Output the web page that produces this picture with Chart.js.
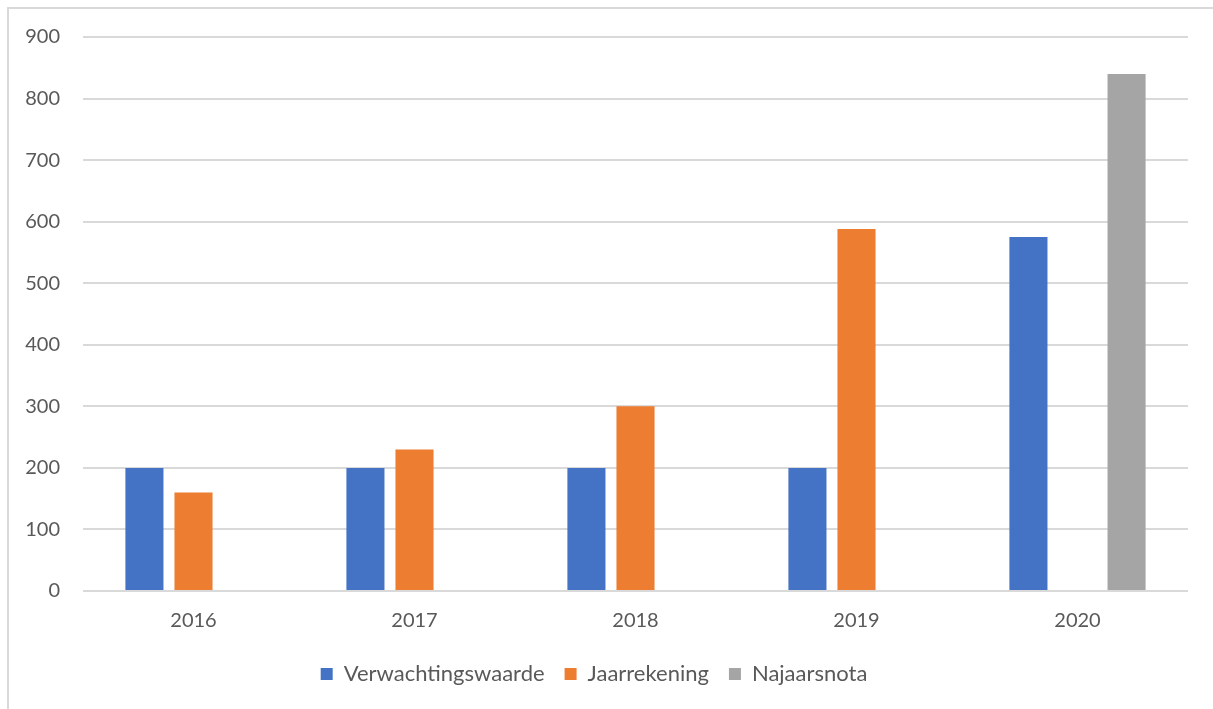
<!DOCTYPE html>
<html>
<head>
<meta charset="utf-8">
<script src="https://cdn.jsdelivr.net/npm/chart.js@4"></script>
<style>
  html, body { margin: 0; padding: 0; background: #fff; overflow: hidden; }
  #frame { position: absolute; left: 7px; top: 7px; width: 1300px; height: 800px; border: 2px solid #d9d9d9; }
  #wrap { position: absolute; left: 0; top: 0; width: 1213px; height: 709px; }
</style>
</head>
<body>
<div id="frame"></div>
<div id="wrap"><canvas id="chart"></canvas></div>
<script>
// data
const years = ['2016', '2017', '2018', '2019', '2020'];
const verwachtingswaarde = [200, 200, 200, 200, 575];
const jaarrekening = [160, 230, 300, 588, null];
const najaarsnota = [null, null, null, null, 840];

const fontFamily = 'Lato, "Noto Sans", sans-serif';
const textColor = '#595959';

const ctx = document.getElementById('chart');
new Chart(ctx, {
  type: 'bar',
  data: {
    labels: years,
    datasets: [
      { label: 'Verwachtingswaarde', data: verwachtingswaarde, backgroundColor: '#4472C4' },
      { label: 'Jaarrekening', data: jaarrekening, backgroundColor: '#ED7D31' },
      { label: 'Najaarsnota', data: najaarsnota, backgroundColor: '#A5A5A5' }
    ]
  },
  options: {
    responsive: true,
    maintainAspectRatio: false,
    animation: false,
    categoryPercentage: 0.666,
    barPercentage: 0.776,
    layout: { padding: { top: 37, right: 25, bottom: 14, left: 0 } },
    plugins: {
      tooltip: { enabled: false },
      legend: {
        position: 'bottom',
        labels: {
          color: textColor,
          font: { family: fontFamily, size: 22 },
          boxWidth: 12,
          boxHeight: 12,
          padding: 20
        }
      }
    },
    scales: {
      x: {
        grid: { display: false },
        border: { display: false },
        ticks: { color: textColor, font: { family: fontFamily, size: 20 }, padding: 10 }
      },
      y: {
        min: 0,
        max: 900,
        ticks: { stepSize: 100, color: textColor, font: { family: fontFamily, size: 20 }, padding: 23 },
        grid: { color: '#d9d9d9', lineWidth: 2, drawTicks: false },
        border: { display: false },
        afterFit: (scale) => { scale.width = 83; }
      }
    }
  }
});
</script>
</body>
</html>
